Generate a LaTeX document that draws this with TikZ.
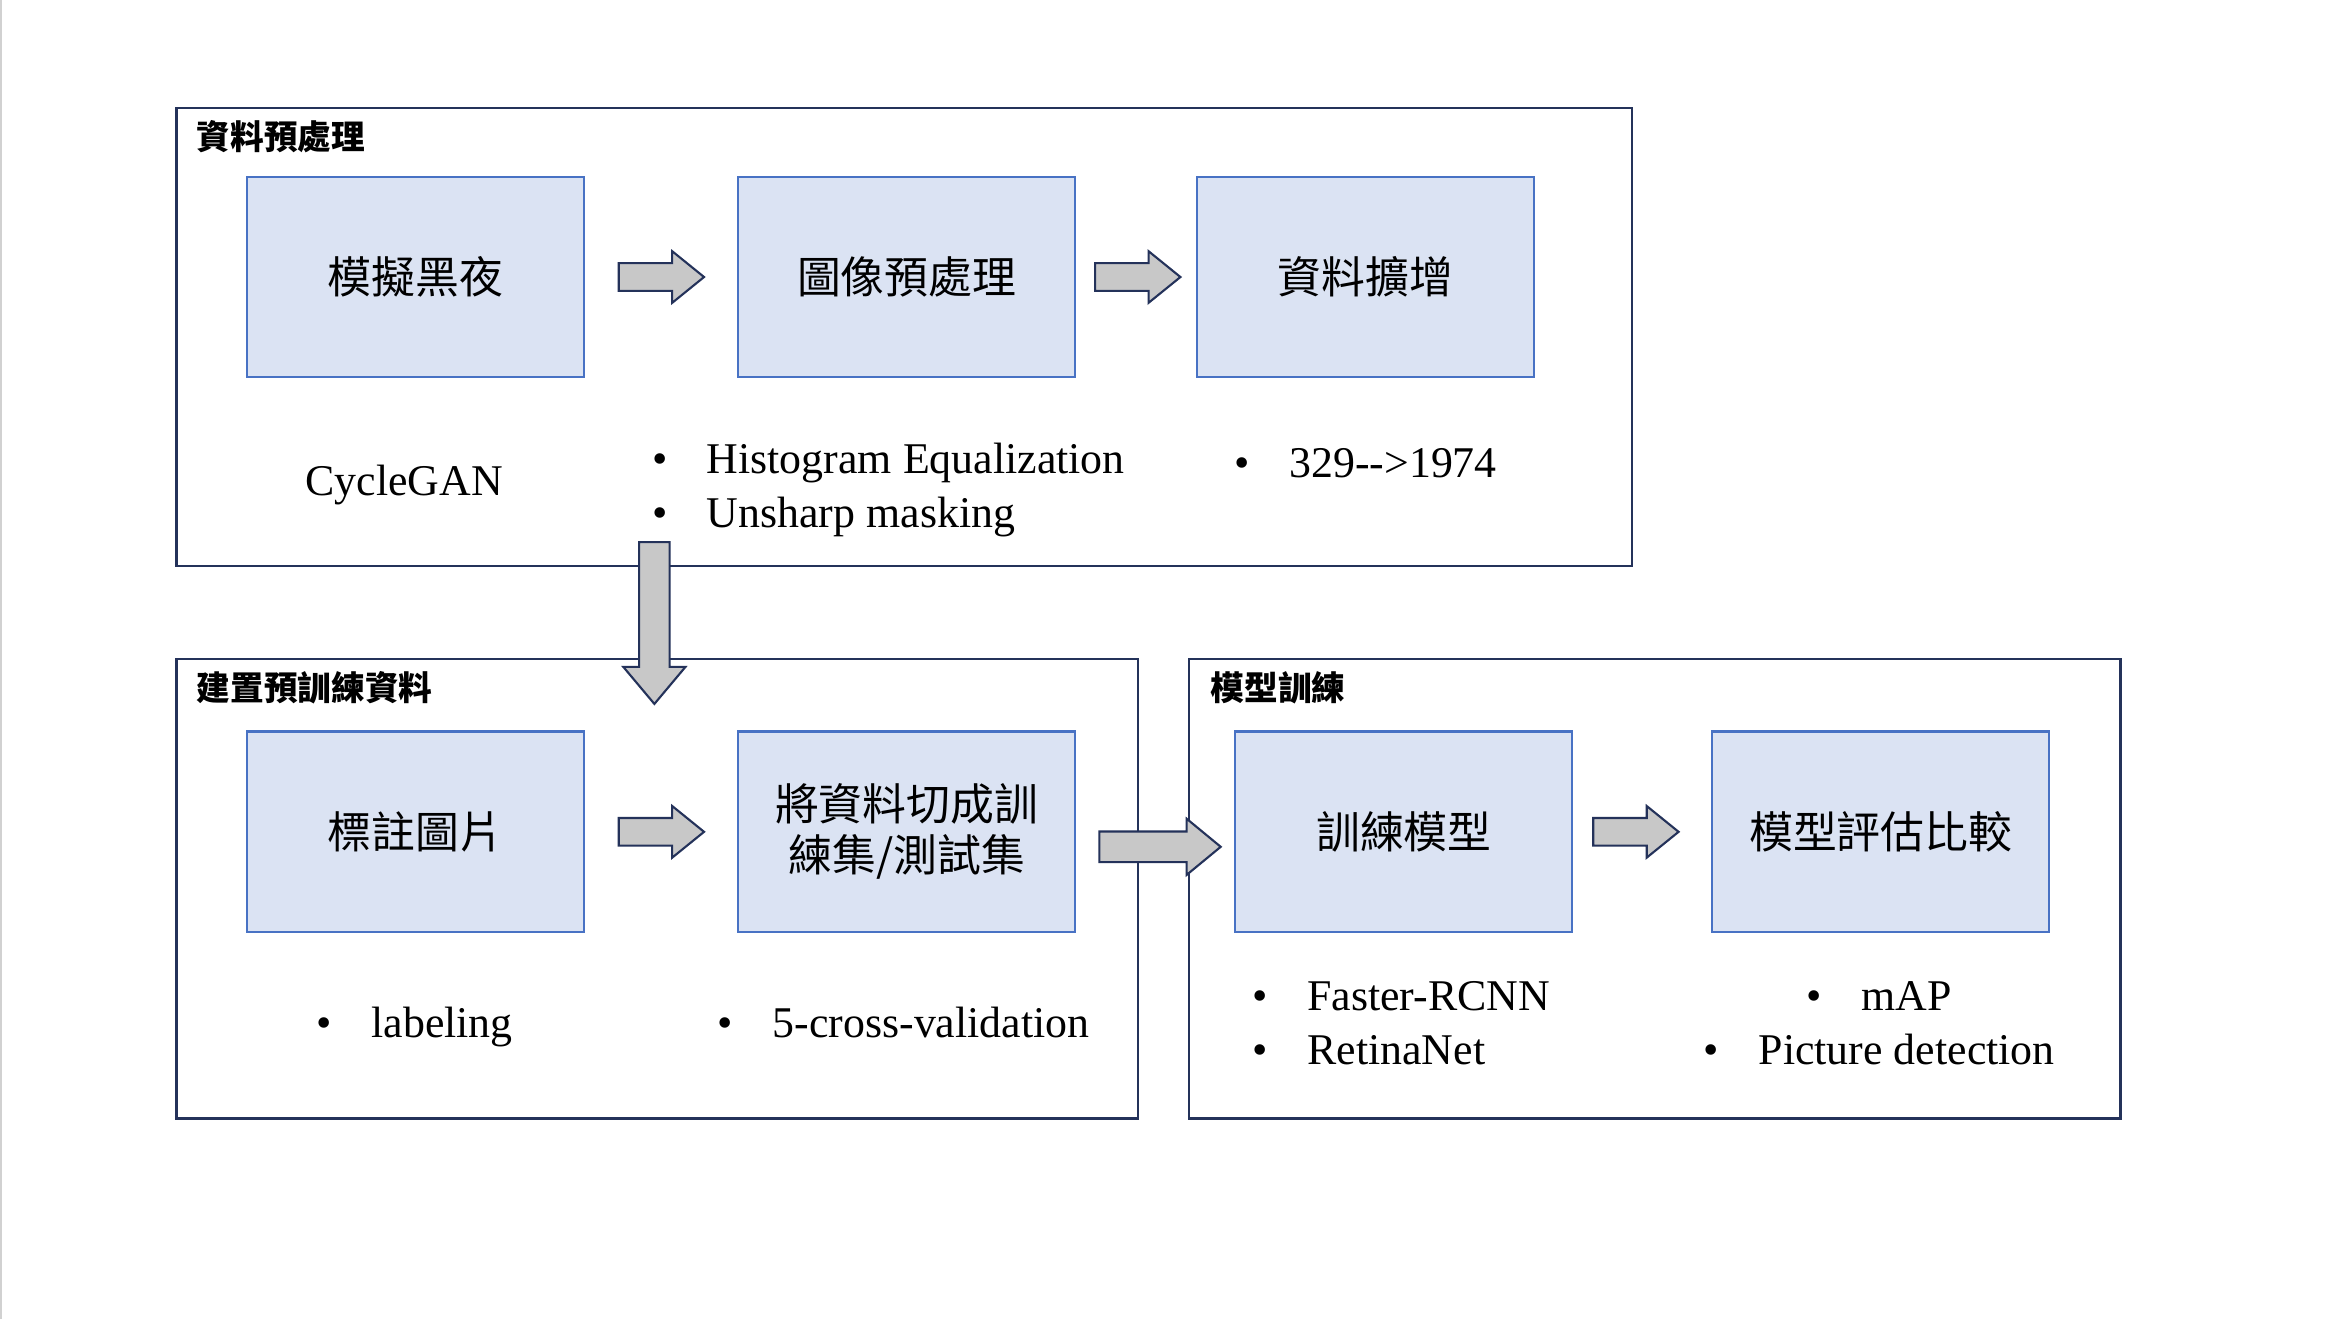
\documentclass[tikz,border=0pt]{standalone}
\usepackage{fontspec}
\setmainfont{Liberation Serif}
\newfontfamily\cjk{Noto Sans CJK TC}
\usepackage{tikz}
\usetikzlibrary{arrows,shapes,positioning,fit,calc}
\definecolor{framenavy}{RGB}{36,50,90}
\definecolor{boxline}{RGB}{72,114,196}
\definecolor{boxfill}{RGB}{219,227,243}
\definecolor{arrgray}{RGB}{200,200,200}
\tikzstyle{box}=[draw=boxline, fill=boxfill, line width=0.6pt, minimum width=3.375cm, minimum height=2.01cm, inner sep=0pt, align=center, font=\cjk\fontsize{12.5}{14.5}\selectfont]
\tikzstyle{group}=[draw=framenavy, line width=0.7pt, inner sep=0pt]
\tikzstyle{title}=[anchor=west, inner sep=0pt, font=\cjk\bfseries\fontsize{9.6}{11}\selectfont]
\tikzstyle{note}=[anchor=west, inner sep=0pt, align=left, font=\fontsize{12.5}{15.4}\selectfont]
\tikzstyle{fatarrow}=[single arrow, draw=framenavy, fill=arrgray, line width=0.6pt, inner xsep=0pt, minimum width=0pt]
\tikzstyle{smallarrow}=[fatarrow, inner ysep=0.128cm, minimum height=0.855cm, single arrow head extend=0.12cm, single arrow tip angle=78]
\newcommand\bul{\makebox[1.25em][l]{\textbullet}}

\begin{document}
\begin{tikzpicture}[x=0.015cm, y=-0.015cm]
		\useasboundingbox[fill=white] (0,0) rectangle (1568,881);
		\draw[black!18, line width=0.5pt] (0.5,0) -- (0.5,881);

		\node[group, fit={(118,72) (1090,378)}] (P) {};
		\node[group, fit={(118,440) (760,747)}] (Q) {};
		\node[group, fit={(794,440) (1416,747)}] (R) {};
		\node[title] (Pt) at (131,91) {資料預處理};
		\node[title] (Qt) at (131,459) {建置預訓練資料};
		\node[title] (Rt) at (808,459) {模型訓練};

		\node[box] (A) at (277.5,185) {模擬黑夜};
		\node[box] (B) at (605.5,185) {圖像預處理};
		\node[box] (C) at (912,185) {資料擴增};
		\node[box] (D) at (277.5,555.5) {標註圖片};
		\node[box] (E) at (605.5,555.5) {將資料切成訓\\練集/測試集};
		\node[box] (F) at (937.5,555.5) {訓練模型};
		\node[box] (G) at (1256,555.5) {模型評估比較};

		\node[note, anchor=center] (Na) at (270,324) {CycleGAN};
		\node[note] (Nb) at (435,327) {\bul Histogram Equalization\\\bul Unsharp masking};
		\node[note] (Nc) at (824,309) {\bul 329-\kern0pt-\kern0pt>1974};
		\node[note] (Nd) at (211,686) {\bul labeling};
		\node[note] (Ne) at (479,683) {\bul 5-cross-validation};
		\node[note] (Nf) at (836,683) {\bul Faster-RCNN\\\bul RetinaNet};
		\node[note, anchor=center, align=center] (Ng) at (1255,683) {\bul mAP\\\bul Picture detection};

	\path (A) -- node[smallarrow, xshift=-0.083cm] (a1) {} (B);
	\path (B) -- node[smallarrow, xshift=-0.07cm] (a2) {} (C);
	\path (D) -- node[smallarrow, xshift=-0.083cm] (a3) {} (E);
	\path (F) -- node[smallarrow, xshift=-0.15cm] (a5) {} (G);
	\path (E.east) -- node[fatarrow, xshift=-0.045cm, yshift=-0.15cm, inner ysep=0.1425cm, minimum height=1.215cm, single arrow head extend=0.128cm, single arrow tip angle=79] (a4) {} (F.west);
	\node[fatarrow, rotate=-90, inner ysep=0.1425cm, minimum height=1.62cm, single arrow head extend=0.158cm, single arrow tip angle=80] (a0) at (437,410) {};
	\end{tikzpicture}
\end{document}
